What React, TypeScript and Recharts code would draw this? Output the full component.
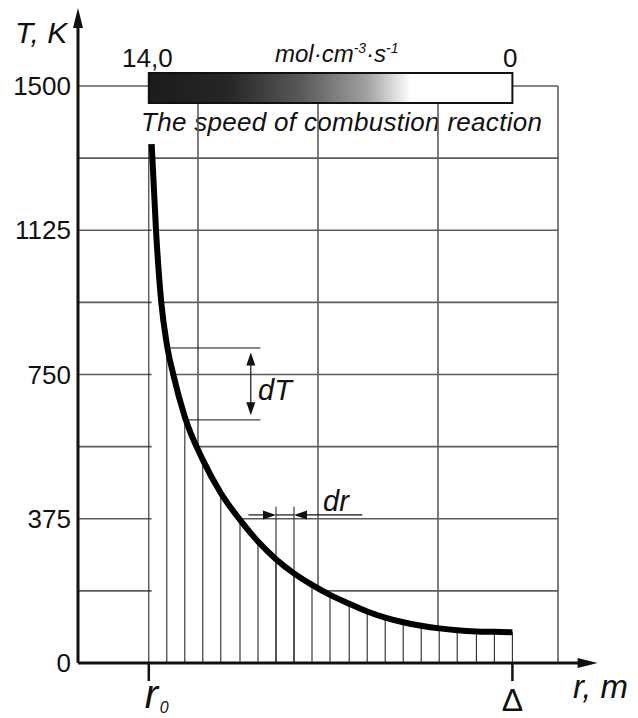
import React from "react";
import {
  ComposedChart,
  Line,
  Area,
  XAxis,
  YAxis,
  ReferenceLine,
  ReferenceArea,
} from "recharts";

// curve samples: radius (grid unit = one vertical grid cell) and temperature, K
const rCurve = [
  0.614, 0.65, 0.694, 0.74, 0.794, 0.89, 1.04, 1.19, 1.35, 1.5, 1.65, 1.8,
  1.95, 2.1, 2.26, 2.41, 2.56, 2.71, 2.86, 3.01, 3.16, 3.32, 3.47, 3.62,
];
const tCurve = [
  1349, 1125, 937, 829, 750, 640, 528, 442, 372, 316, 270, 233, 203, 177, 154,
  134, 118, 106, 97, 90, 85, 82, 81, 80,
];

// dr steps from r0 to Δ and their heights
const rHatch = [
  0.59, 0.74, 0.89, 1.04, 1.19, 1.35, 1.5, 1.65, 1.8, 1.95, 2.1, 2.26, 2.41,
  2.56, 2.71, 2.86, 3.01, 3.16, 3.32, 3.47, 3.62,
];
const tHatch = [
  1349, 829, 640, 528, 442, 372, 316, 270, 233, 203, 177, 154, 134, 118, 106,
  97, 90, 85, 82, 81, 80,
];

const tTicks = [0, 375, 750, 1125, 1500];
const tGrid = [187.5, 375, 562.5, 750, 937.5, 1125, 1312.5, 1500];
const rGrid = [1, 2, 3, 4];
const rTicks = [0.59, 3.62];
const rTickLabels = ["r", "Δ"];

// annotation values
const dTLevels = [819, 632];
const dTStart = [0.75, 0.9];
const drMarks = [1.65, 1.8];
const drTop = 406;
const drLevel = 385;

const data = rCurve.map((r, i) => ({ r, T: tCurve[i] }));

const FONT = '"Liberation Sans", Arial, Helvetica, sans-serif';
const INK = "#111";
const GRID = "#5c5c5c";

const arrowShape =
  (head: number, half: number, width: number, both = false) =>
  (p: any) => {
    const { x1, y1, x2, y2 } = p;
    const len = Math.hypot(x2 - x1, y2 - y1) || 1;
    const ux = (x2 - x1) / len;
    const uy = (y2 - y1) / len;
    const tip = (x: number, y: number, dx: number, dy: number) =>
      `${x},${y} ${x - dx * head - dy * half},${y - dy * head + dx * half} ${
        x - dx * head + dy * half
      },${y - dy * head - dx * half}`;
    const s = both ? head * 0.6 : 0;
    const e = head * 0.6;
    return (
      <g>
        <line
          x1={x1 + ux * s}
          y1={y1 + uy * s}
          x2={x2 - ux * e}
          y2={y2 - uy * e}
          stroke={INK}
          strokeWidth={width}
        />
        <polygon points={tip(x2, y2, ux, uy)} fill={INK} />
        {both && <polygon points={tip(x1, y1, -ux, -uy)} fill={INK} />}
      </g>
    );
  };

const RTick = (props: any) => {
  const { x, y, payload } = props;
  const label = rTickLabels[rTicks.indexOf(payload.value)];
  if (label === "r") {
    return (
      <g fontFamily={FONT} fill={INK}>
        <text x={x - 4} y={y + 25} fontSize={40} fontStyle="italic">
          r
        </text>
        <text x={x + 11} y={y + 30} fontSize={16} fontStyle="italic">
          0
        </text>
      </g>
    );
  }
  return (
    <text
      x={x}
      y={y + 28}
      textAnchor="middle"
      fontSize={32}
      fontFamily={FONT}
      fill={INK}
    >
      {label}
    </text>
  );
};

export default function App() {
  return (
    <div style={{ position: "absolute", left: 0, top: 0, background: "#fff" }}>
      <ComposedChart
        width={638}
        height={718}
        data={data}
        margin={{ top: 86, right: 80, left: 0, bottom: 15 }}
      >
        <defs>
          <linearGradient id="speedGrad" x1="0" y1="0" x2="1" y2="0">
            <stop offset="0%" stopColor="#1c1c1c" />
            <stop offset="22%" stopColor="#262626" />
            <stop offset="42%" stopColor="#5a5a5a" />
            <stop offset="60%" stopColor="#a0a0a0" />
            <stop offset="72%" stopColor="#ffffff" />
            <stop offset="100%" stopColor="#ffffff" />
          </linearGradient>
        </defs>
        <XAxis
          dataKey="r"
          type="number"
          domain={[0, 4]}
          ticks={rTicks}
          interval={0}
          axisLine={false}
          tickLine={{ stroke: INK, strokeWidth: 2.5 }}
          tickSize={18}
          tick={<RTick />}
          height={40}
        />
        <YAxis
          type="number"
          domain={[0, 1500]}
          ticks={tTicks}
          axisLine={false}
          tickLine={false}
          tickSize={0}
          tickMargin={7}
          width={78}
          tick={{ fontSize: 26, fill: INK, fontFamily: FONT }}
        />

        {tGrid.map((t) => (
          <ReferenceLine
            key={"h" + t}
            segment={[
              { x: 0, y: t },
              { x: 4, y: t },
            ]}
            stroke={GRID}
            strokeWidth={1.6}
            ifOverflow="visible"
            zIndex={10}
          />
        ))}
        {rGrid.map((r) => (
          <ReferenceLine
            key={"v" + r}
            segment={[
              { x: r, y: 0 },
              { x: r, y: 1500 },
            ]}
            stroke={GRID}
            strokeWidth={1.6}
            ifOverflow="visible"
            zIndex={10}
          />
        ))}

        <Area
          type="monotone"
          dataKey="T"
          stroke="none"
          fill="#fff"
          fillOpacity={1}
          isAnimationActive={false}
          zIndex={100}
        />

        {rHatch.map((r, i) => (
          <ReferenceLine
            key={"s" + r}
            segment={[
              { x: r, y: 0 },
              { x: r, y: tHatch[i] },
            ]}
            stroke="#2a2a2a"
            strokeWidth={1.1}
            ifOverflow="visible"
            zIndex={150}
          />
        ))}
        {drMarks.map((r) => (
          <ReferenceLine
            key={"m" + r}
            segment={[
              { x: r, y: 0 },
              { x: r, y: drTop },
            ]}
            stroke="#2a2a2a"
            strokeWidth={1.1}
            ifOverflow="visible"
            zIndex={150}
          />
        ))}

        <Line
          type="monotone"
          dataKey="T"
          stroke="#000"
          strokeWidth={6}
          dot={false}
          activeDot={false}
          isAnimationActive={false}
          zIndex={400}
        />

        {/* dT */}
        {dTLevels.map((t, i) => (
          <ReferenceLine
            key={"dt" + t}
            segment={[
              { x: dTStart[i], y: t },
              { x: 1.52, y: t },
            ]}
            stroke={INK}
            strokeWidth={1}
            ifOverflow="visible"
            zIndex={450}
          />
        ))}
        <ReferenceLine
          segment={[
            { x: 1.44, y: dTLevels[0] - 12 },
            { x: 1.44, y: dTLevels[1] + 12 },
          ]}
          ifOverflow="visible"
          shape={arrowShape(13, 4.5, 1.2, true)}
          zIndex={450}
        />

        {/* dr */}
        <ReferenceLine
          segment={[
            { x: 1.42, y: drLevel },
            { x: drMarks[0], y: drLevel },
          ]}
          ifOverflow="visible"
          shape={arrowShape(13, 4.5, 1.2)}
          zIndex={450}
        />
        <ReferenceLine
          segment={[
            { x: 2.37, y: drLevel },
            { x: drMarks[1], y: drLevel },
          ]}
          ifOverflow="visible"
          shape={arrowShape(13, 4.5, 1.2)}
          zIndex={450}
        />
        <ReferenceLine
          segment={[
            { x: drMarks[0], y: drLevel },
            { x: drMarks[1], y: drLevel },
          ]}
          stroke={INK}
          strokeWidth={1.2}
          ifOverflow="visible"
          zIndex={450}
        />

        {/* reaction speed scale */}
        <ReferenceArea
          x1={rTicks[0]}
          x2={rTicks[1]}
          y1={1456}
          y2={1534}
          fill="url(#speedGrad)"
          fillOpacity={1}
          stroke={INK}
          strokeWidth={2}
          ifOverflow="visible"
          zIndex={460}
        />

        {/* axes with arrows */}
        <ReferenceLine
          segment={[
            { x: 0, y: 0 },
            { x: 0, y: 1703 },
          ]}
          ifOverflow="visible"
          shape={arrowShape(20, 5, 3)}
          zIndex={500}
        />
        <ReferenceLine
          segment={[
            { x: 0, y: 0 },
            { x: 4.33, y: 0 },
          ]}
          ifOverflow="visible"
          shape={arrowShape(20, 5, 3)}
          zIndex={500}
        />

        <text x={15} y={43} fontSize={30} fontStyle="italic" fontFamily={FONT} fill={INK}>
          T, K
        </text>
        <text x={122} y={67} fontSize={26} fontFamily={FONT} fill={INK}>
          14,0
        </text>
        <text x={503} y={67} fontSize={26} fontFamily={FONT} fill={INK}>
          0
        </text>
        <text x={275} y={62} fontSize={24} fontStyle="italic" fontFamily={FONT} fill={INK}>
          mol·cm
          <tspan dy={-9} fontSize={14}>
            -3
          </tspan>
          <tspan dy={9}>·s</tspan>
          <tspan dy={-9} fontSize={14}>
            -1
          </tspan>
        </text>
        <text
          x={141}
          y={131}
          fontSize={26}
          letterSpacing={0.3}
          fontStyle="italic"
          fontFamily={FONT}
          fill={INK}
        >
          The speed of combustion reaction
        </text>
        <text x={258} y={400} fontSize={29} fontStyle="italic" fontFamily={FONT} fill={INK}>
          dT
        </text>
        <text x={323} y={511} fontSize={29} fontStyle="italic" fontFamily={FONT} fill={INK}>
          dr
        </text>
        <text x={573} y={698} fontSize={33} fontStyle="italic" fontFamily={FONT} fill={INK}>
          r, m
        </text>
      </ComposedChart>
    </div>
  );
}
